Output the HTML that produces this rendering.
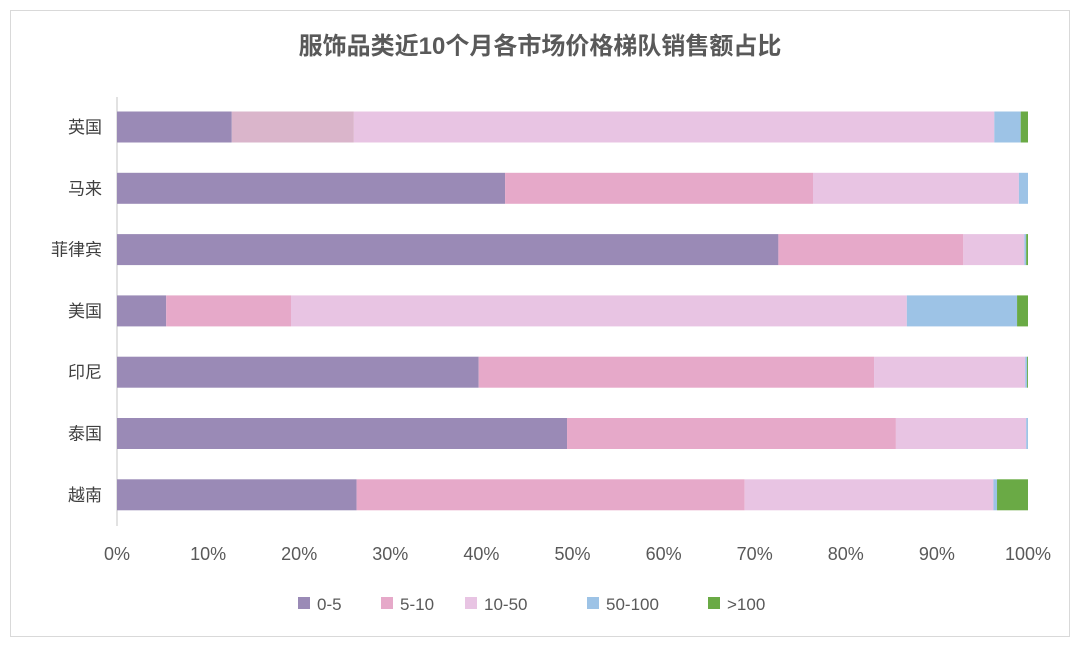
<!DOCTYPE html>
<html><head><meta charset="utf-8"><style>
body{margin:0;background:#fff;width:1080px;height:649px;overflow:hidden;font-family:"Liberation Sans","Noto Sans CJK SC",sans-serif;}
</style></head><body>
<svg id="chart" width="1080" height="649" xmlns="http://www.w3.org/2000/svg">
<rect x="10.5" y="10.5" width="1059" height="626" fill="#fff" stroke="#d9d9d9"/>
<text x="540" y="54" text-anchor="middle" font-size="24" font-weight="bold" fill="#595959" font-family="'Liberation Sans','Noto Sans CJK SC',sans-serif">服饰品类近10个月各市场价格梯队销售额占比</text>
<line x1="117" y1="97" x2="117" y2="526" stroke="#d9d9d9" stroke-width="1.5"/>
<g id="bars"></g><g id="ylabels"></g><g id="xticks"></g><g id="legend"></g>
</svg>
<script>
const categories=["英国","马来","菲律宾","美国","印尼","泰国","越南"];
const seriesNames=["0-5","5-10","10-50","50-100",">100"];
const s0=[12.6,42.6,72.6,5.4,39.7,49.4,26.3];
const s1=[13.4,33.8,20.3,13.7,43.4,36.1,42.6];
const s2=[70.3,22.6,6.7,67.6,16.6,14.3,27.3];
const s3=[2.9,1.0,0.2,12.1,0.2,0.2,0.4];
const s4=[0.8,0,0.2,1.2,0.1,0,3.4];
const xTicks=[0,10,20,30,40,50,60,70,80,90,100];
const series=[s0,s1,s2,s3,s4];
const colors=["#9a8ab6","#e6a9c9","#e8c4e3","#9dc3e6","#6aaa45"];
const NS="http://www.w3.org/2000/svg";
const x0=117,x1=1028;
const xs=v=>x0+(x1-x0)*v/100;
const yc=i=>127+i*61.3;
const bh=31;
function mk(tag,attrs,parent){const e=document.createElementNS(NS,tag);for(const k in attrs)e.setAttribute(k,attrs[k]);parent.appendChild(e);return e;}
const gb=document.getElementById('bars'),gy=document.getElementById('ylabels'),gx=document.getElementById('xticks'),gl=document.getElementById('legend');
categories.forEach((c,i)=>{
  let acc=0;
  series.forEach((s,j)=>{
    const v=s[i];
    let col=colors[j];
    if(i===0&&j===1)col="#dab5cb";
    const r=mk('rect',{x:xs(acc),y:yc(i)-bh/2,width:Math.max(0,xs(acc+v)-xs(acc)),height:bh,fill:col},gb);
    
    
    acc+=v;
  });
  const t=mk('text',{x:102,y:yc(i)+6,'text-anchor':'end','font-size':17,fill:'#404040'},gy);
  
  
  t.textContent=c;
});
xTicks.forEach(v=>{
  const t=mk('text',{x:xs(v),y:560,'text-anchor':'middle','font-size':18,fill:'#595959'},gx);
  
  
  t.textContent=v+'%';
});
const lx=[298,381,465,587,708];
seriesNames.forEach((n,j)=>{
  const r=mk('rect',{x:lx[j],y:597,width:12,height:12,fill:colors[j]},gl);
  
  
  const t=mk('text',{x:lx[j]+19,y:610,'font-size':17,fill:'#595959'},gl);
  
  
  t.textContent=n;
});
</script>
</body></html>
